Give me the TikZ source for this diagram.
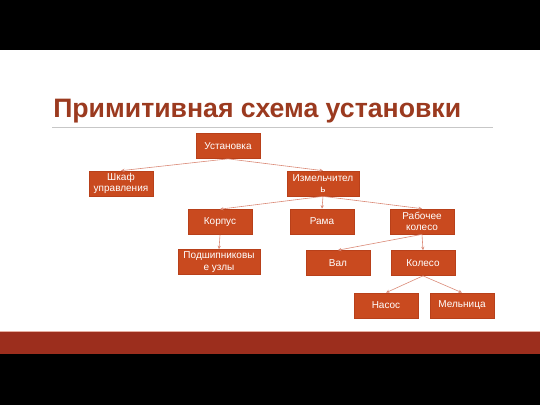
\documentclass[tikz,border=0pt]{standalone}
\usepackage{fontspec}
\setmainfont{Liberation Sans}
\usetikzlibrary{arrows.meta}
\definecolor{boxfill}{HTML}{C94A1F}
\definecolor{boxedge}{HTML}{B8401A}
\definecolor{linkcol}{HTML}{DB8B78}
\definecolor{titlecol}{HTML}{9B3A1F}
\definecolor{barcol}{HTML}{9C2E1D}
\tikzset{
  unit/.style={draw=boxedge, fill=boxfill, text=white, line width=0.5pt,
    minimum width=48pt, minimum height=18.75pt, inner sep=1pt, align=center,
    font=\fontsize{7.5}{8.4}\selectfont},
  link/.style={draw=linkcol, line width=0.45pt, -{Stealth[length=2.6pt,width=2.4pt]}}
}
\begin{document}
\begin{tikzpicture}[x=0.75pt,y=0.75pt,yscale=-1,xscale=1]
\useasboundingbox (0,0) rectangle (540,405);

%Background
\fill[black] (0,0) rectangle (540,405);
\fill[white] (0,50) rectangle (540,331);
\fill[barcol] (0,331) rectangle (540,354);
\draw[color=linkcol!70!white, line width=0.6pt] (0,331.4) -- (540,331.4);

%Title
\node[anchor=base west, inner sep=0pt, text=titlecol, font=\fontsize{20}{24}\selectfont\bfseries] (title) at (53,117.5) {Примитивная схема установки};
%Rule under title
\draw[color=black!22, line width=1.1pt] (52,127.5) -- (493,127.5);

%Boxes
\node[unit] (ust) at (228,146) {Установка};
\node[unit] (shkaf) at (121,183.5) {Шкаф\\управления};
\node[unit, minimum width=54pt] (izm) at (323,183.5) {Измельчител\\ь};
\node[unit] (korp) at (220,222) {Корпус};
\node[unit] (rama) at (322,221.5) {Рама};
\node[unit] (rabk) at (422,221.5) {Рабочее\\колесо};
\node[unit, minimum width=61.5pt] (podsh) at (219,262) {Подшипниковы\\е узлы};
\node[unit] (val) at (338,263) {Вал};
\node[unit] (kol) at (423,263) {Колесо};
\node[unit] (nasos) at (386,305.5) {Насос};
\node[unit] (meln) at (462,305.5) {Мельница};

%Links
\draw[link] (ust.south) -- (shkaf.north);
\draw[link] (ust.south) -- (izm.north);
\draw[link] (izm.south) -- (korp.north);
\draw[link] (izm.south) -- (rama.north);
\draw[link] (izm.south) -- (rabk.north);
\draw[link] (korp.south) -- (podsh.north);
\draw[link] (rabk.south) -- (val.north);
\draw[link] (rabk.south) -- (kol.north);
\draw[link] (kol.south) -- (nasos.north);
\draw[link] (kol.south) -- (meln.north);

\end{tikzpicture}
\end{document}
